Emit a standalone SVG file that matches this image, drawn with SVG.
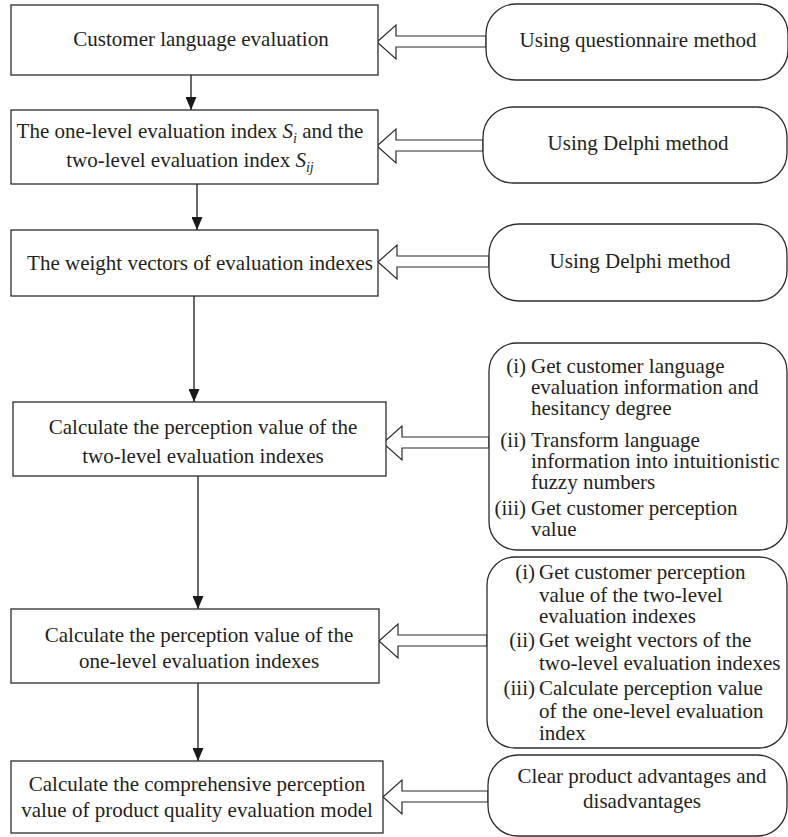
<svg xmlns="http://www.w3.org/2000/svg" width="788" height="837" viewBox="0 0 788 837">
<style>
.box{fill:#fff;stroke:#2b2b2b;stroke-width:1.3}
.rbox{fill:#fff;stroke:#2b2b2b;stroke-width:1.3}
.t{font-family:"Liberation Serif","Times New Roman",serif;font-size:21px;fill:#231f20}
.c{text-anchor:middle}
.e{text-anchor:end}
.line{stroke:#1a1a1a;stroke-width:1.3;fill:none}
.hollow{fill:#fff;stroke:#2b2b2b;stroke-width:1.2;stroke-linejoin:miter}
</style>
<defs>
<marker id="ah" viewBox="0 0 13 11" refX="13" refY="5.5" markerWidth="13" markerHeight="11" markerUnits="userSpaceOnUse" orient="auto">
<path d="M0,0 L13,5.5 L0,11 z" fill="#1a1a1a"/>
</marker>
</defs>
<rect width="788" height="837" fill="#fff"/>

<g id="connectors">
<line class="line" x1="191" y1="75" x2="191" y2="110" marker-end="url(#ah)"/>
<line class="line" x1="197" y1="184" x2="197" y2="230" marker-end="url(#ah)"/>
<line class="line" x1="194" y1="296" x2="194" y2="402" marker-end="url(#ah)"/>
<line class="line" x1="198" y1="476" x2="198" y2="609" marker-end="url(#ah)"/>
<line class="line" x1="198" y1="683" x2="198" y2="761" marker-end="url(#ah)"/>
<polygon class="hollow" points="377,42 396,25 396,36 486,36 486,47 396,47 396,59"/>
<polygon class="hollow" points="377,146 396,129 396,140 483,140 483,151 396,151 396,163"/>
<polygon class="hollow" points="378,262 397,245 397,256 489,256 489,267 397,267 397,279"/>
<polygon class="hollow" points="383,443 402,426 402,437 489,437 489,448 402,448 402,460"/>
<polygon class="hollow" points="379,641 398,624 398,635 487,635 487,646 398,646 398,658"/>
<polygon class="hollow" points="383,797 402,780 402,791 488,791 488,802 402,802 402,814"/>
</g>

<g id="n1">
<rect class="box" x="11" y="5" width="367" height="70"/>
<text class="t c" x="201" y="46">Customer language evaluation</text>
</g>
<g id="n2">
<rect class="box" x="11" y="110" width="367" height="74"/>
<text class="t c" x="190" y="138">The one-level evaluation index <tspan font-style="italic">S</tspan><tspan font-style="italic" font-size="14" dy="5">i</tspan><tspan dy="-5"> and the</tspan></text>
<text class="t c" x="190" y="167">two-level evaluation index <tspan font-style="italic">S</tspan><tspan font-style="italic" font-size="14" dy="5">ij</tspan></text>
</g>
<g id="n3">
<rect class="box" x="11" y="230" width="367" height="66"/>
<text class="t c" x="200" y="270">The weight vectors of evaluation indexes</text>
</g>
<g id="n4">
<rect class="box" x="13" y="402" width="373" height="74"/>
<text class="t c" x="203" y="434">Calculate the perception value of the</text>
<text class="t c" x="203" y="463">two-level evaluation indexes</text>
</g>
<g id="n5">
<rect class="box" x="11" y="609" width="368" height="74"/>
<text class="t c" x="199" y="642">Calculate the perception value of the</text>
<text class="t c" x="199" y="668">one-level evaluation indexes</text>
</g>
<g id="n6">
<rect class="box" x="11" y="761" width="372" height="72"/>
<text class="t c" x="197" y="791">Calculate the comprehensive perception</text>
<text class="t c" x="197" y="817">value of product quality evaluation model</text>
</g>

<g id="r1">
<rect class="rbox" x="486" y="4" width="302" height="76" rx="30" ry="30"/>
<text class="t c" x="638" y="47">Using questionnaire method</text>
</g>
<g id="r2">
<rect class="rbox" x="483" y="107" width="304" height="76" rx="30" ry="30"/>
<text class="t c" x="638" y="150">Using Delphi method</text>
</g>
<g id="r3">
<rect class="rbox" x="489" y="224" width="298" height="77" rx="30" ry="30"/>
<text class="t c" x="640" y="268">Using Delphi method</text>
</g>
<g id="r4">
<rect class="rbox" x="489" y="343" width="298" height="207" rx="28" ry="28"/>
<text class="t e" x="526" y="373">(i)</text>
<text class="t" x="531" y="373">Get customer language</text>
<text class="t" x="531" y="394">evaluation information and</text>
<text class="t" x="531" y="415">hesitancy degree</text>
<text class="t e" x="526" y="447">(ii)</text>
<text class="t" x="531" y="447">Transform language</text>
<text class="t" x="531" y="468">information into intuitionistic</text>
<text class="t" x="531" y="489">fuzzy numbers</text>
<text class="t e" x="526" y="515">(iii)</text>
<text class="t" x="531" y="515">Get customer perception</text>
<text class="t" x="531" y="536">value</text>
</g>
<g id="r5">
<rect class="rbox" x="487" y="557" width="300" height="191" rx="28" ry="28"/>
<text class="t e" x="535" y="579">(i)</text>
<text class="t" x="539" y="579">Get customer perception</text>
<text class="t" x="539" y="602">value of the two-level</text>
<text class="t" x="539" y="623">evaluation indexes</text>
<text class="t e" x="535" y="647">(ii)</text>
<text class="t" x="539" y="647">Get weight vectors of the</text>
<text class="t" x="539" y="670">two-level evaluation indexes</text>
<text class="t e" x="535" y="695">(iii)</text>
<text class="t" x="539" y="695">Calculate perception value</text>
<text class="t" x="539" y="718">of the one-level evaluation</text>
<text class="t" x="539" y="740">index</text>
</g>
<g id="r6">
<rect class="rbox" x="488" y="755" width="299" height="81" rx="30" ry="30"/>
<text class="t c" x="642" y="783">Clear product advantages and</text>
<text class="t c" x="642" y="808">disadvantages</text>
</g>
</svg>
